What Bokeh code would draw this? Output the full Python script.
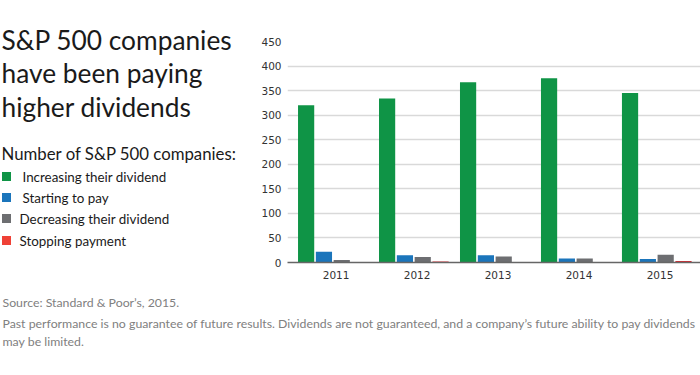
from bokeh.plotting import figure
from bokeh.models import Range1d, FixedTicker
from bokeh.layouts import row, column
from bokeh.core.properties import value
from bokeh.embed import file_html
from bokeh.resources import INLINE

years = ["2011", "2012", "2013", "2014", "2015"]
increasing = [320, 334, 367, 375, 345]
starting = [22, 15, 15, 8, 7]
decreasing = [5, 11, 12, 8, 16]
stopping = [1, 2, 1, 1, 3]
series_names = ["Increasing their dividend", "Starting to pay",
                "Decreasing their dividend", "Stopping payment"]
colors = ["#0f9446", "#1b75bb", "#6d6e71", "#d9282f"]
legend_colors = ["#0f9446", "#1b75bb", "#6d6e71", "#ef4136"]
y_ticks = [0, 50, 100, 150, 200, 250, 300, 350, 400, 450]

title_lines = ["S&P 500 companies", "have been paying", "higher dividends"]
legend_title = "Number of S&P 500 companies:"
source_text = "Source: Standard & Poor\u2019s, 2015."
note_lines = ["Past performance is no guarantee of future results. Dividends are not guaranteed, and a company\u2019s future ability to pay dividends",
              "may be limited."]

TOP_H = 290
LEFT_W = 250
W = 700


def blank(width, height):
    f = figure(width=width, height=height, output_backend="svg", toolbar_location=None,
               x_range=Range1d(0, width), y_range=Range1d(height, 0),
               x_axis_type=None, y_axis_type=None,
               min_border=0, min_border_left=0, min_border_right=0,
               min_border_top=0, min_border_bottom=0)
    f.outline_line_color = None
    f.grid.grid_line_color = None
    f.background_fill_color = "white"
    f.border_fill_color = "white"
    f.frame_align = False
    return f


def add_text(f, px, py, txt, size, color, font="Lato"):
    f.text(x=[px], y=[py], text=[txt], text_font=value(font),
           text_font_size=value(size), text_color=color,
           text_baseline="middle", text_align="left")


# left panel: title and legend
left = blank(LEFT_W, TOP_H)
for i, t in enumerate(title_lines):
    add_text(left, 1, 39 + i * 33.5, t, "26.3px", "#1a1a1a")
add_text(left, 1, 153, legend_title, "16.8px", "#1a1a1a")
marker_y = [176, 197, 218, 240]
text_x = [22, 22, 19, 19]
left.rect(x=[6] * 4, y=marker_y, width=9, height=9, fill_color=legend_colors,
          line_color=None)
for i, name in enumerate(series_names):
    add_text(left, text_x[i], marker_y[i], name, "13.4px", "#1a1a1a")

# chart
CW = W - LEFT_W
FL = 287 - LEFT_W
FT = 41
FB = 262
X0, X1 = -0.56, 4.54
p = figure(width=CW, height=TOP_H, output_backend="svg", toolbar_location=None,
           x_range=Range1d(X0, X1), y_range=Range1d(0, 450),
           min_border_left=FL, min_border_right=0,
           min_border_top=FT, min_border_bottom=TOP_H - FB)
p.outline_line_color = None
p.background_fill_color = "white"
p.border_fill_color = "white"
p.frame_align = False

xs = list(range(len(years)))
offsets = [-0.33, -0.11, 0.11, 0.33]
for vals, off, col in zip([increasing, starting, decreasing, stopping], offsets, colors):
    p.vbar(x=[x + off for x in xs], top=vals, width=0.2, bottom=0,
           fill_color=col, line_color=None)

p.xgrid.grid_line_color = None
p.ygrid.grid_line_color = "#d9d9d9"
p.ygrid.grid_line_width = 1.5
p.ygrid.ticker = FixedTicker(ticks=y_ticks)

p.yaxis.ticker = FixedTicker(ticks=y_ticks)
p.yaxis.axis_line_color = None
p.yaxis.major_tick_line_color = None
p.yaxis.minor_tick_line_color = None
p.yaxis.major_tick_out = 0
p.yaxis.major_tick_in = 0
p.yaxis.minor_tick_out = 0
p.yaxis.major_label_standoff = 6
p.yaxis.major_label_text_font = "DejaVu Sans"
p.yaxis.major_label_text_font_size = "10.5px"
p.yaxis.major_label_text_color = "#333333"

p.xaxis.ticker = FixedTicker(ticks=[x + 0.04 for x in xs])
p.xaxis.major_label_overrides = {x + 0.04: y for x, y in zip(xs, years)}
p.xaxis.axis_line_color = "#666666"
p.xaxis.axis_line_width = 1.5
p.xaxis.major_tick_line_color = None
p.xaxis.minor_tick_line_color = None
p.xaxis.major_label_standoff = 2
p.xaxis.major_label_text_font = "DejaVu Sans"
p.xaxis.major_label_text_font_size = "10.5px"
p.xaxis.major_label_text_color = "#333333"

# bottom notes
bottom = blank(W, 375 - TOP_H)
add_text(bottom, 2, 302 - TOP_H, source_text, "12.3px", "#808080")
add_text(bottom, 2, 323 - TOP_H, note_lines[0], "12.3px", "#808080")
add_text(bottom, 2, 341 - TOP_H, note_lines[1], "12.3px", "#808080")

layout = column(row(left, p), bottom)
open("out.html", "w").write(file_html(layout, INLINE))
